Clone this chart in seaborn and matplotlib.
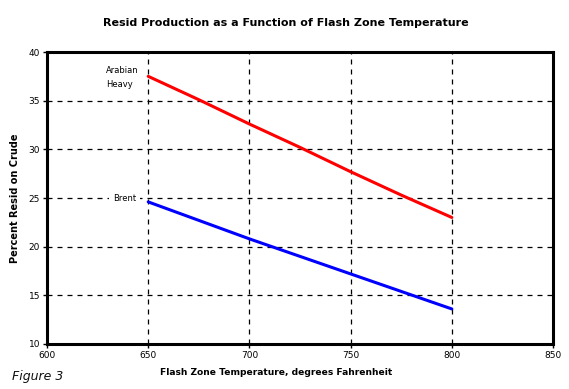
import pandas as pd
import matplotlib as mpl
import matplotlib.pyplot as plt
import seaborn as sns

temps = [650, 675, 700, 725, 750, 775, 800]
arabian_heavy = [37.5, 35.1, 32.6, 30.2, 27.7, 25.3, 23.0]
brent = [24.6, 22.7, 20.8, 19.0, 17.2, 15.4, 13.6]

data = pd.DataFrame({
    "temp": temps * 2,
    "resid": arabian_heavy + brent,
    "crude": ["Arabian Heavy"] * len(temps) + ["Brent"] * len(temps),
})

sns.set_style("white")
mpl.rcParams["font.family"] = ["DejaVu Sans"]
mpl.rcParams["text.color"] = "black"
mpl.rcParams["axes.labelcolor"] = "black"
mpl.rcParams["xtick.color"] = "black"
mpl.rcParams["ytick.color"] = "black"

fig = plt.figure(figsize=(5.69, 3.89), dpi=100)
ax = fig.add_axes([0.0826, 0.1157, 0.8894, 0.7506])

sns.lineplot(data=data, x="temp", y="resid", hue="crude",
             palette={"Arabian Heavy": "#ff0000", "Brent": "#0000ff"},
             linewidth=2.2, legend=False, ax=ax)

ax.set_xlim(600, 850)
ax.set_ylim(10, 40)
ax.set_xticks(range(600, 851, 50))
ax.set_yticks(range(10, 41, 5))
ax.tick_params(labelsize=6.5, length=3, width=1, color="black", pad=2,
               left=True, bottom=True)
ax.grid(True, color="black", linestyle=(0, (4, 4)), linewidth=0.9)
for s in ax.spines.values():
    s.set_color("black")
    s.set_linewidth(2.2)
    s.set_visible(True)

ax.set_xlabel("Flash Zone Temperature, degrees Fahrenheit", fontsize=6.6,
              fontweight="bold")
ax.xaxis.set_label_coords(0.453, -0.083)
ax.set_ylabel("Percent Resid on Crude", fontsize=7, fontweight="bold")
ax.yaxis.set_label_coords(-0.053, 0.5)

ax.text(629, 37.4, "Arabian\nHeavy", fontsize=6, ha="left", va="center",
        linespacing=1.7)
ax.text(632.5, 25.0, "Brent", fontsize=6, ha="left", va="center",
        bbox=dict(facecolor="white", edgecolor="none", pad=3))

fig.text(0.503, 0.941, "Resid Production as a Function of Flash Zone Temperature",
         fontsize=8, fontweight="bold", ha="center", va="center")
fig.text(0.021, 0.031, "Figure 3", fontsize=9, style="italic", color="#111111",
         family=["Liberation Sans Narrow", "DejaVu Sans"],
         ha="left", va="center")

fig.savefig("out.png", dpi=100)
